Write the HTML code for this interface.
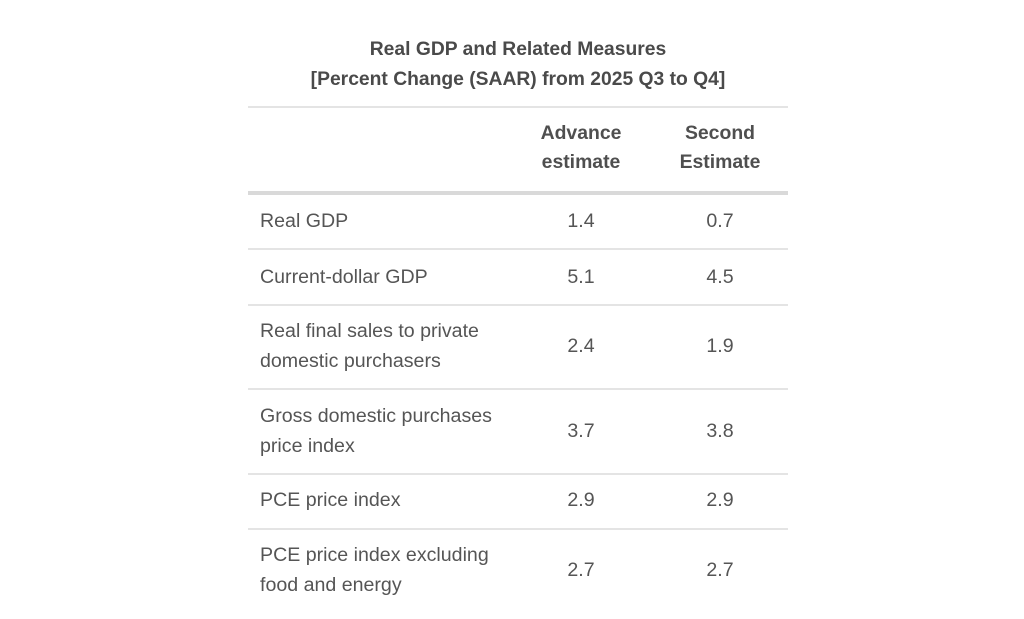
<!DOCTYPE html>
<html><head><meta charset="utf-8"><style>
body{margin:0;width:1024px;height:619px;background:#fff;font-family:"Liberation Sans",sans-serif;color:#555;position:relative;overflow:hidden}
.t{position:absolute;white-space:nowrap;font-size:19.6px;line-height:30px}
.c{transform:translateX(-50%);text-align:center}
.ttl{font-weight:bold;color:#4a4a4a;font-size:19.3px}
.h{font-weight:bold;color:#4f4f4f;font-size:19.4px;line-height:29px}
.ln{position:absolute;left:248px;width:540px;height:2px;background:#e4e4e4}
</style></head><body>
<div class="t c ttl" style="left:518px;top:35px">Real GDP and Related Measures</div>
<div class="t c ttl" style="left:518px;top:65px">[Percent Change (SAAR) from 2025 Q3 to Q4]</div>
<div class="ln" style="top:106px"></div>
<div class="t c h" style="left:581px;top:119px">Advance<br>estimate</div>
<div class="t c h" style="left:720px;top:119px">Second<br>Estimate</div>
<div class="ln" style="top:191px;height:4px;background:#d9d9d9"></div>
<div class="t" style="left:260px;top:206px">Real GDP</div>
<div class="t c" style="left:581px;top:206px">1.4</div>
<div class="t c" style="left:720px;top:206px">0.7</div>
<div class="ln" style="top:248px"></div>
<div class="t" style="left:260px;top:262px">Current-dollar GDP</div>
<div class="t c" style="left:581px;top:262px">5.1</div>
<div class="t c" style="left:720px;top:262px">4.5</div>
<div class="ln" style="top:304px"></div>
<div class="t" style="left:260px;top:316px">Real final sales to private<br>domestic purchasers</div>
<div class="t c" style="left:581px;top:331px">2.4</div>
<div class="t c" style="left:720px;top:331px">1.9</div>
<div class="ln" style="top:388px"></div>
<div class="t" style="left:260px;top:401px">Gross domestic purchases<br>price index</div>
<div class="t c" style="left:581px;top:416px">3.7</div>
<div class="t c" style="left:720px;top:416px">3.8</div>
<div class="ln" style="top:473px"></div>
<div class="t" style="left:260px;top:485px">PCE price index</div>
<div class="t c" style="left:581px;top:485px">2.9</div>
<div class="t c" style="left:720px;top:485px">2.9</div>
<div class="ln" style="top:528px"></div>
<div class="t" style="left:260px;top:540px">PCE price index excluding<br>food and energy</div>
<div class="t c" style="left:581px;top:555px">2.7</div>
<div class="t c" style="left:720px;top:555px">2.7</div>
</body></html>
